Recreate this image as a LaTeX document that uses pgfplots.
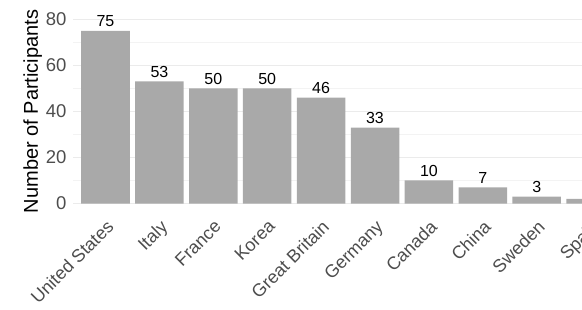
\documentclass[border=0pt]{standalone}
\usepackage{pgfplots}
\pgfplotsset{compat=1.18}
\usepackage{fontspec}
\setmainfont{Liberation Sans}
\definecolor{bargray}{RGB}{169,169,169}
\definecolor{gridmaj}{RGB}{235,235,235}
\definecolor{gridmin}{RGB}{243,243,243}
\definecolor{ticktxt}{RGB}{77,77,77}
\begin{document}
\begin{tikzpicture}
\begin{axis}[
  x=53.9pt, y=2.3025pt,
  anchor=origin, at={(105.5pt,105.5pt)},
  xmin=-0.6, xmax=9.6, ymin=-4, ymax=84,
  axis line style={draw=none},
  major tick length=0pt, minor tick length=0pt,
  ytick={0,20,40,60,80}, minor ytick={10,30,50,70},
  xtick={0,...,9},
  xticklabels={United States,Italy,France,Korea,Great Britain,Germany,Canada,China,Sweden,Spain},
  ymajorgrids, yminorgrids,
  major grid style={gridmaj, line width=0.8pt},
  minor grid style={gridmin, line width=0.6pt},
  /pgf/number format/assume math mode=true,
  tick label style={font=\fontsize{18.5}{20}\selectfont, text=ticktxt},
  yticklabel style={inner xsep=0pt},
  yticklabel shift=6.5pt,
  xticklabel style={rotate=45, anchor=north east, inner sep=0pt, font=\fontsize{18}{20}\selectfont},
  xticklabel shift=6pt,
  ylabel={Number of Participants},
  ylabel style={font=\fontsize{20}{22}\selectfont, at={(axis description cs:-0.0564,0.5)}, anchor=south, inner sep=0pt},
  clip=false,
  nodes near coords,
  every node near coord/.append style={font=\fontsize{16}{18}\selectfont, text=black, inner ysep=3.5pt},
]
\addplot[ybar, bar width=48.5pt, fill=bargray, draw=none] coordinates {
(0,75) (1,53) (2,50) (3,50) (4,46) (5,33) (6,10) (7,7) (8,3) (9,2)};
\end{axis}
\pgfresetboundingbox
\path[use as bounding box] (0pt,0pt) rectangle (582pt,309pt);
\end{tikzpicture}
\end{document}
